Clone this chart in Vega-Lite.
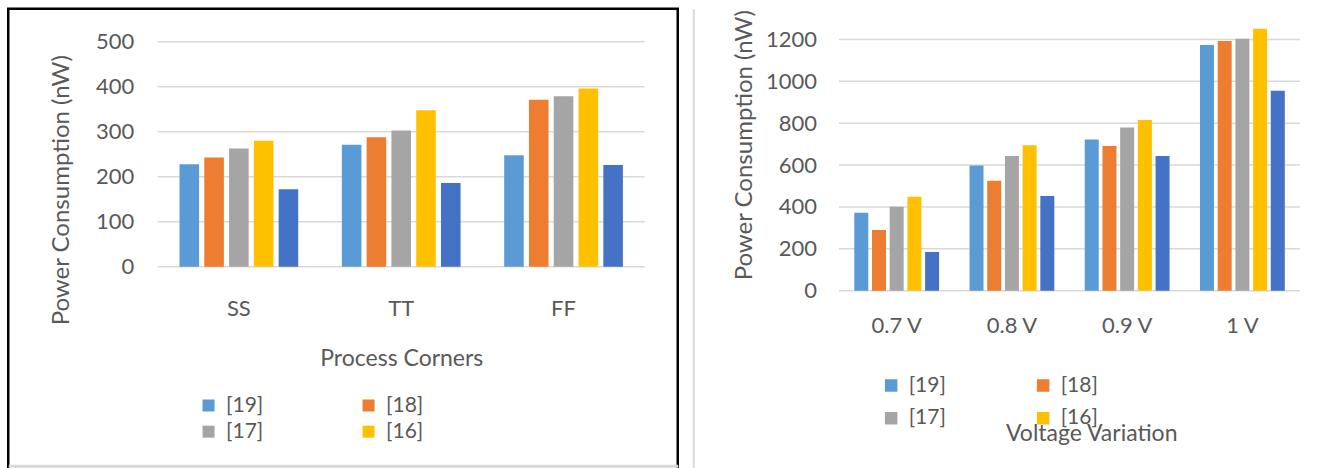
{
  "$schema": "https://vega.github.io/schema/vega-lite/v6.json",
  "background": "white",
  "padding": {"left": 6.25, "top": 6.75, "right": 0, "bottom": 0},
  "spacing": 14,
  "config": {
    "font": "Lato",
    "view": {"stroke": null},
    "axis": {
      "labelColor": "#595959",
      "titleColor": "#595959",
      "labelFont": "Lato",
      "titleFont": "Lato",
      "titleFontWeight": "normal",
      "ticks": false,
      "domain": false,
      "grid": false
    },
    "legend": {
      "labelColor": "#595959",
      "labelFont": "Lato",
      "symbolType": "square",
      "symbolStrokeWidth": 0,
      "padding": 0
    }
  },
  "datasets": {
    "corners": [
      {"corner": "SS", "ref": "[19]", "power": 228},
      {"corner": "SS", "ref": "[18]", "power": 243},
      {"corner": "SS", "ref": "[17]", "power": 263},
      {"corner": "SS", "ref": "[16]", "power": 280},
      {"corner": "SS", "ref": "Proposed", "power": 172},
      {"corner": "TT", "ref": "[19]", "power": 271},
      {"corner": "TT", "ref": "[18]", "power": 288},
      {"corner": "TT", "ref": "[17]", "power": 303},
      {"corner": "TT", "ref": "[16]", "power": 348},
      {"corner": "TT", "ref": "Proposed", "power": 186},
      {"corner": "FF", "ref": "[19]", "power": 248},
      {"corner": "FF", "ref": "[18]", "power": 371},
      {"corner": "FF", "ref": "[17]", "power": 379},
      {"corner": "FF", "ref": "[16]", "power": 396},
      {"corner": "FF", "ref": "Proposed", "power": 226}
    ],
    "voltage": [
      {"supply": "0.7 V", "ref": "[19]", "power": 372},
      {"supply": "0.7 V", "ref": "[18]", "power": 290},
      {"supply": "0.7 V", "ref": "[17]", "power": 401},
      {"supply": "0.7 V", "ref": "[16]", "power": 449},
      {"supply": "0.7 V", "ref": "Proposed", "power": 185},
      {"supply": "0.8 V", "ref": "[19]", "power": 598},
      {"supply": "0.8 V", "ref": "[18]", "power": 525},
      {"supply": "0.8 V", "ref": "[17]", "power": 644},
      {"supply": "0.8 V", "ref": "[16]", "power": 695},
      {"supply": "0.8 V", "ref": "Proposed", "power": 452},
      {"supply": "0.9 V", "ref": "[19]", "power": 722},
      {"supply": "0.9 V", "ref": "[18]", "power": 691},
      {"supply": "0.9 V", "ref": "[17]", "power": 780},
      {"supply": "0.9 V", "ref": "[16]", "power": 816},
      {"supply": "0.9 V", "ref": "Proposed", "power": 643},
      {"supply": "1 V", "ref": "[19]", "power": 1174},
      {"supply": "1 V", "ref": "[18]", "power": 1193},
      {"supply": "1 V", "ref": "[17]", "power": 1203},
      {"supply": "1 V", "ref": "[16]", "power": 1251},
      {"supply": "1 V", "ref": "Proposed", "power": 955}
    ],
    "gridCorners": [
      {"tick": 0}, {"tick": 100}, {"tick": 200}, {"tick": 300}, {"tick": 400}, {"tick": 500}
    ],
    "gridVoltage": [
      {"tick": 0}, {"tick": 200}, {"tick": 400}, {"tick": 600}, {"tick": 800}, {"tick": 1000}, {"tick": 1200}
    ]
  },
  "resolve": {
    "scale": {"x": "independent", "xOffset": "independent", "y": "independent"},
    "legend": {"color": "independent"}
  },
  "hconcat": [
    {
      "width": 669.5,
      "height": 463,
      "view": {"stroke": "black", "strokeWidth": 2.5},
      "resolve": {"scale": {"x": "independent"}, "axis": {"x": "independent", "y": "independent"}},
      "layer": [
        {
          "data": {"name": "gridCorners"},
          "mark": {"type": "rule", "color": "#D9D9D9", "strokeWidth": 1.5},
          "encoding": {
            "x": {
              "datum": 0,
              "type": "quantitative",
              "scale": {"domain": [-0.307, 1.068], "nice": false, "zero": false},
              "axis": {
                "orient": "bottom",
                "offset": -6,
                "domain": true,
                "domainColor": "#D9D9D9",
                "domainWidth": 3,
                "labels": false,
                "ticks": false,
                "grid": false,
                "title": null
              }
            },
            "x2": {"datum": 1},
            "y": {
              "field": "tick",
              "type": "quantitative",
              "scale": {"domain": [-455.6, 573.3], "nice": false, "zero": false},
              "axis": null
            }
          }
        },
        {
          "data": {"name": "corners"},
          "mark": {"type": "bar"},
          "encoding": {
            "x": {
              "field": "corner",
              "type": "nominal",
              "sort": ["SS", "TT", "FF"],
              "scale": {"paddingInner": 0, "paddingOuter": 0.562, "align": 0.819},
              "axis": {
                "orient": "bottom",
                "offset": -173,
                "labelPadding": 0,
                "labelAngle": 0,
                "labelFontSize": 22,
                "title": "Process Corners",
                "titleFontSize": 23,
                "titleX": 393,
                "titleY": 67,
                "titleAlign": "center",
                "titleBaseline": "alphabetic"
              }
            },
            "xOffset": {
              "field": "ref",
              "type": "nominal",
              "sort": ["[19]", "[18]", "[17]", "[16]", "Proposed"],
              "scale": {"paddingInner": 0.21, "paddingOuter": 0.88}
            },
            "y": {
              "field": "power",
              "type": "quantitative",
              "scale": {"domain": [-455.6, 573.3], "nice": false, "zero": false},
              "axis": {
                "orient": "left",
                "values": [0, 100, 200, 300, 400, 500],
                "format": "d",
                "offset": -125.5,
                "labelPadding": 0,
                "labelFontSize": 22,
                "title": "Power Consumption (nW)",
                "titleFontSize": 24,
                "titleAngle": 270,
                "titleX": -72,
                "titleY": 181,
                "titleAlign": "center",
                "titleBaseline": "middle"
              }
            },
            "y2": {"datum": 0},
            "color": {
              "field": "ref",
              "type": "nominal",
              "scale": {
                "domain": ["[19]", "[18]", "[17]", "[16]", "Proposed"],
                "range": ["#5B9BD5", "#ED7D31", "#A5A5A5", "#FFC000", "#4472C4"]
              },
              "legend": {
                "values": ["[19]", "[18]", "[17]", "[16]"],
                "title": null,
                "orient": "none",
                "direction": "horizontal",
                "legendX": 189.8,
                "legendY": 386,
                "columns": 2,
                "columnPadding": 94,
                "rowPadding": 4.4,
                "symbolSize": 144,
                "labelFontSize": 21,
                "labelOffset": 7
              }
            }
          }
        }
      ]
    },
    {
      "width": 646.7,
      "height": 463,
      "resolve": {"scale": {"x": "independent"}, "axis": {"x": "independent", "y": "independent"}},
      "layer": [
        {
          "data": {"name": "gridVoltage"},
          "mark": {"type": "rule", "color": "#D9D9D9", "strokeWidth": 1.5},
          "encoding": {
            "x": {
              "datum": 0,
              "type": "quantitative",
              "scale": {"domain": [-0.316, 1.0868], "nice": false, "zero": false},
              "axis": null
            },
            "x2": {"datum": 1},
            "y": {
              "field": "tick",
              "type": "quantitative",
              "scale": {"domain": [-864.4, 1346.7], "nice": false, "zero": false},
              "axis": {
                "orient": "left",
                "domain": true,
                "domainColor": "#D9D9D9",
                "domainWidth": 2,
                "labels": false,
                "ticks": false,
                "grid": false,
                "title": null
              }
            }
          }
        },
        {
          "data": {"name": "voltage"},
          "mark": {"type": "bar"},
          "encoding": {
            "x": {
              "field": "supply",
              "type": "nominal",
              "sort": ["0.7 V", "0.8 V", "0.9 V", "1 V"],
              "scale": {"paddingInner": 0, "paddingOuter": 0.806, "align": 0.785},
              "axis": {
                "orient": "bottom",
                "offset": -156,
                "labelPadding": 0,
                "labelAngle": 0,
                "labelFontSize": 22,
                "title": "Voltage Variation",
                "titleFontSize": 23,
                "titleX": 398,
                "titleY": 125,
                "titleAlign": "center",
                "titleBaseline": "alphabetic"
              }
            },
            "xOffset": {
              "field": "ref",
              "type": "nominal",
              "sort": ["[19]", "[18]", "[17]", "[16]", "Proposed"],
              "scale": {"paddingInner": 0.21, "paddingOuter": 0.86}
            },
            "y": {
              "field": "power",
              "type": "quantitative",
              "scale": {"domain": [-864.4, 1346.7], "nice": false, "zero": false},
              "axis": {
                "orient": "left",
                "values": [0, 200, 400, 600, 800, 1000, 1200],
                "format": "d",
                "offset": -123.2,
                "labelPadding": 0,
                "labelFontSize": 22,
                "title": "Power Consumption (nW)",
                "titleFontSize": 24,
                "titleAngle": 270,
                "titleX": -71.5,
                "titleY": 136,
                "titleAlign": "center",
                "titleBaseline": "middle"
              }
            },
            "y2": {"datum": 0},
            "color": {
              "field": "ref",
              "type": "nominal",
              "scale": {
                "domain": ["[19]", "[18]", "[17]", "[16]", "Proposed"],
                "range": ["#5B9BD5", "#ED7D31", "#A5A5A5", "#FFC000", "#4472C4"]
              },
              "legend": {
                "values": ["[19]", "[18]", "[17]", "[16]"],
                "title": null,
                "orient": "none",
                "direction": "horizontal",
                "legendX": 187.4,
                "legendY": 366,
                "columns": 2,
                "columnPadding": 86,
                "rowPadding": 11,
                "symbolSize": 156,
                "labelFontSize": 21,
                "labelOffset": 7
              }
            }
          }
        }
      ]
    }
  ]
}
